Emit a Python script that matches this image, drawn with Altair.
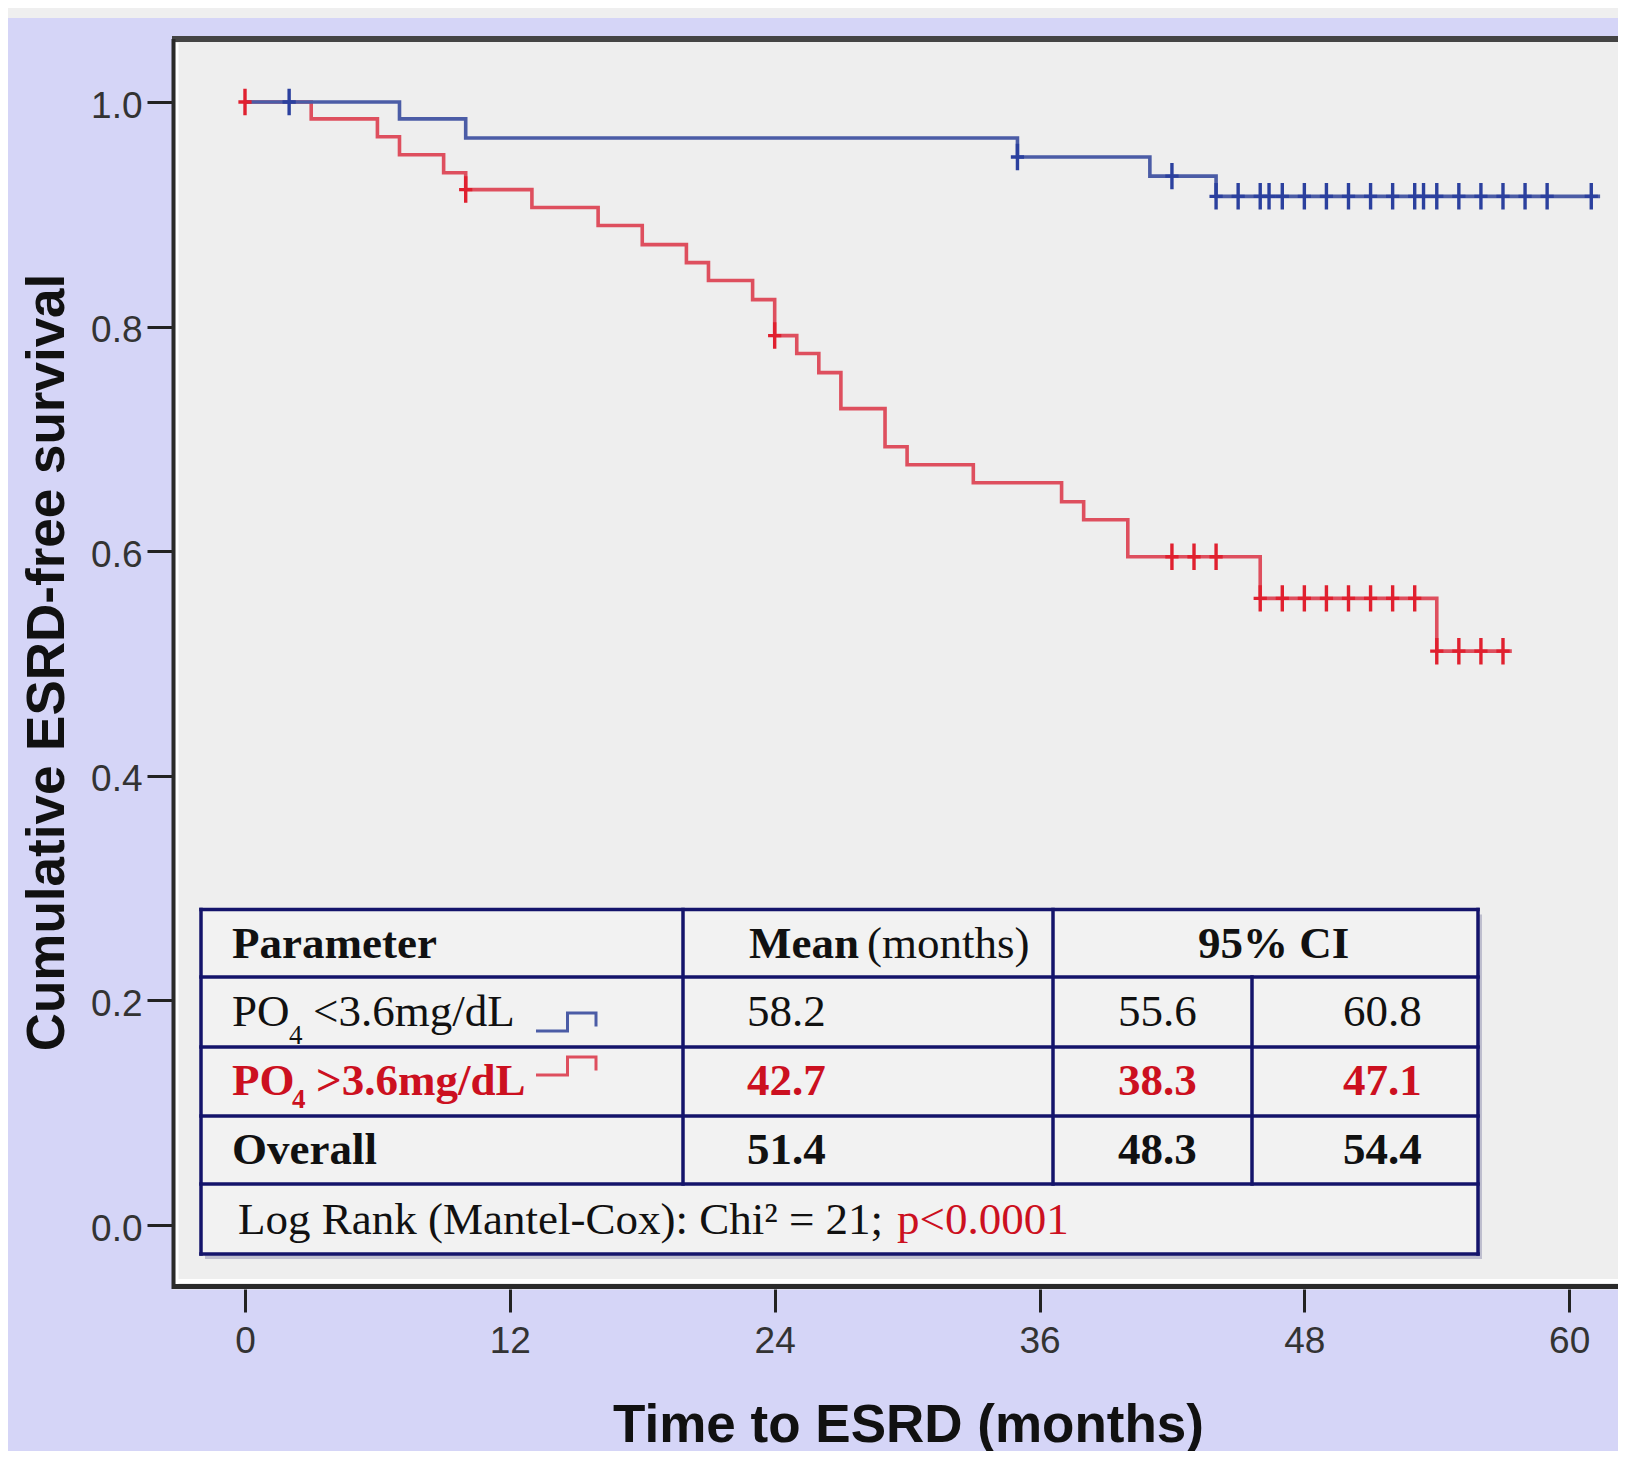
import altair as alt
import pandas as pd

# ---------------- data ----------------
red_times = [0, 3, 6, 7, 9, 10, 13, 16, 18, 20, 21, 23, 24, 25, 26, 27, 29, 30, 33, 37, 38, 40, 46, 54]
red_surv = [1.0, 0.985, 0.969, 0.953, 0.937, 0.922, 0.906, 0.890, 0.873, 0.857, 0.841, 0.824,
            0.792, 0.776, 0.759, 0.727, 0.693, 0.677, 0.661, 0.644, 0.628, 0.595, 0.558, 0.511]
red_end = 57.4
red_censored = [0, 10, 24, 42, 43, 44, 46, 47, 48, 49, 50, 51, 52, 53, 54, 55, 56, 57]

blue_times = [0, 7, 10, 35, 41, 44]
blue_surv = [1.0, 0.985, 0.968, 0.951, 0.934, 0.916]
blue_end = 61.4
blue_censored = [2, 35, 42, 44, 45, 46, 46.4, 47, 48, 49, 50, 51, 52, 53, 53.4, 54, 55, 56, 57, 58, 59, 61]

x_ticks = [0, 12, 24, 36, 48, 60]
y_ticks = [0.0, 0.2, 0.4, 0.6, 0.8, 1.0]

x_title = "Time to ESRD (months)"
y_title = "Cumulative ESRD-free survival"

row_labels = ["PO", "PO", "Overall"]
row_label_rest = ["<3.6mg/dL", ">3.6mg/dL", ""]
means = ["58.2", "42.7", "51.4"]
ci_low = ["55.6", "38.3", "48.3"]
ci_high = ["60.8", "47.1", "54.4"]
logrank_text = "Log Rank (Mantel-Cox): Chi\u00b2 = 21;"
p_text = "p<0.0001"

# ---------------- styling / layout ----------------
RED_LINE = "#de4f5e"
RED_MARK = "#e0202f"
BLUE_LINE = "#4b5ca6"
BLUE_MARK = "#2b409e"
RED_TEXT = "#cc1020"
BLACK = "#111111"
NAVY = "#14146b"
LAVENDER = "#d5d5f7"
PLOT_BG = "#eeeeee"

PLOT_W, PLOT_H = 1446, 1250
PAD_L, PAD_T, PAD_B = 164, 31, 162
LEFT_PX, TOP_PX = 8 + PAD_L, 8 + PAD_T          # page position of plot area
X0_PX, PX_PER_MONTH = 245.0, 22.07               # page px of month 0
Y0_PX, PX_PER_UNIT = 1225.0, 1123.0              # page px of survival 0


def dx(px):
    return (px - X0_PX) / PX_PER_MONTH


def dy(py):
    return (Y0_PX - py) / PX_PER_UNIT


XMIN, XMAX = dx(LEFT_PX), dx(LEFT_PX + PLOT_W)
YMIN, YMAX = dy(TOP_PX + PLOT_H), dy(TOP_PX)

xscale = alt.Scale(domain=[XMIN, XMAX], nice=False, zero=False)
yscale = alt.Scale(domain=[YMIN, YMAX], nice=False, zero=False)

xaxis = alt.Axis(values=x_ticks, title=x_title, grid=False, domain=False,
                 tickSize=23, tickWidth=3, tickColor="#222222",
                 labelFont="Liberation Sans", labelFontSize=37, labelColor="#333333",
                 labelPadding=11, labelFlush=False,
                 titleFont="Liberation Sans", titleFontSize=53, titleFontWeight="bold",
                 titleColor=BLACK, titleX=908 - LEFT_PX, titleY=1425 - (TOP_PX + PLOT_H),
                 titleBaseline="middle", titleAlign="center")
yaxis = alt.Axis(values=y_ticks, format=".1f", title=y_title, grid=False, domain=False,
                 tickSize=25, tickWidth=3, tickColor="#222222",
                 labelFont="Liberation Sans", labelFontSize=37, labelColor="#333333",
                 labelPadding=5, labelOffset=4, labelFlush=False,
                 titleFont="Liberation Sans", titleFontSize=53, titleFontWeight="bold",
                 titleColor=BLACK, titleX=47 - LEFT_PX, titleY=662 - TOP_PX,
                 titleAngle=270, titleBaseline="middle", titleAlign="center")


def X(f):
    return alt.X(f, type="quantitative", scale=xscale, axis=xaxis)


def Y(f):
    return alt.Y(f, type="quantitative", scale=yscale, axis=yaxis)


def step_value(times, surv, t):
    v = surv[0]
    for ti, si in zip(times, surv):
        if ti <= t:
            v = si
    return v


# ---------------- curves ----------------
curve_rows = []
for t, s in zip(red_times, red_surv):
    curve_rows.append({"t": t, "s": s, "g": "red", "c": RED_LINE})
curve_rows.append({"t": red_end, "s": red_surv[-1], "g": "red", "c": RED_LINE})
for t, s in zip(blue_times, blue_surv):
    curve_rows.append({"t": t, "s": s, "g": "blue", "c": BLUE_LINE})
curve_rows.append({"t": blue_end, "s": blue_surv[-1], "g": "blue", "c": BLUE_LINE})
curves_df = pd.DataFrame(curve_rows)

cens_rows = []
for t in red_censored:
    cens_rows.append({"t": t, "s": step_value(red_times, red_surv, t), "c": RED_MARK})
for t in blue_censored:
    cens_rows.append({"t": t, "s": step_value(blue_times, blue_surv, t), "c": BLUE_MARK})
cens_df = pd.DataFrame(cens_rows)

curves = alt.Chart(curves_df).mark_line(interpolate="step-after", strokeWidth=3.6).encode(
    x=X("t"), y=Y("s"), color=alt.Color("c:N", scale=None), detail="g:N")

censors = alt.Chart(cens_df).mark_point(
    shape="M0,-1L0,1M-0.5,0L0.5,0", size=700, filled=False, strokeWidth=3.4, opacity=1
).encode(x=X("t"), y=Y("s"), color=alt.Color("c:N", scale=None))

# ---------------- inset table ----------------
T_L, T_R = 201, 1478
rows_px = [909.5, 977, 1047, 1116, 1184, 1254]
c1, c2, c3 = 683, 1053, 1252

shadow_df = pd.DataFrame([{"x": dx(T_L + 4), "x2": dx(T_R + 4), "y": dy(rows_px[0] + 5), "y2": dy(rows_px[-1] + 5)}])
bg_df = pd.DataFrame([{"x": dx(T_L), "x2": dx(T_R), "y": dy(rows_px[0]), "y2": dy(rows_px[-1])}])

shadow = alt.Chart(shadow_df).mark_rect(color="#a9a9c0", opacity=0.7).encode(
    x=X("x"), x2="x2", y=Y("y"), y2="y2")
table_bg = alt.Chart(bg_df).mark_rect(color="#f2f2f2").encode(
    x=X("x"), x2="x2", y=Y("y"), y2="y2")

h_df = pd.DataFrame([{"x": dx(T_L), "x2": dx(T_R), "y": dy(r)} for r in rows_px])
v_df = pd.DataFrame([
    {"x": dx(T_L), "y": dy(rows_px[0]), "y2": dy(rows_px[-1])},
    {"x": dx(T_R), "y": dy(rows_px[0]), "y2": dy(rows_px[-1])},
    {"x": dx(c1), "y": dy(rows_px[0]), "y2": dy(rows_px[4])},
    {"x": dx(c2), "y": dy(rows_px[0]), "y2": dy(rows_px[4])},
    {"x": dx(c3), "y": dy(rows_px[1]), "y2": dy(rows_px[4])},
])
h_lines = alt.Chart(h_df).mark_rule(color=NAVY, strokeWidth=3.5, strokeCap="square").encode(
    x=X("x"), x2="x2", y=Y("y"))
v_lines = alt.Chart(v_df).mark_rule(color=NAVY, strokeWidth=3.5, strokeCap="square").encode(
    x=X("x"), y=Y("y"), y2="y2")

row_y = [944, 1012, 1081, 1150, 1220]
col_x_mean, col_x_lo, col_x_hi = 747, 1118, 1343

reg_rows = [
    {"x": 867, "y": row_y[0], "text": "(months)", "c": BLACK},
    {"x": 232, "y": row_y[1], "text": row_labels[0], "c": BLACK},
    {"x": 313, "y": row_y[1], "text": row_label_rest[0], "c": BLACK},
    {"x": col_x_mean, "y": row_y[1], "text": means[0], "c": BLACK},
    {"x": col_x_lo, "y": row_y[1], "text": ci_low[0], "c": BLACK},
    {"x": col_x_hi, "y": row_y[1], "text": ci_high[0], "c": BLACK},
    {"x": 238, "y": row_y[4], "text": logrank_text, "c": BLACK},
    {"x": 897, "y": row_y[4], "text": p_text, "c": RED_TEXT},
]
bold_rows = [
    {"x": 232, "y": row_y[0], "text": "Parameter", "c": BLACK},
    {"x": 749, "y": row_y[0], "text": "Mean", "c": BLACK},
    {"x": 1198, "y": row_y[0], "text": "95% CI", "c": BLACK},
    {"x": 232, "y": row_y[2], "text": row_labels[1], "c": RED_TEXT},
    {"x": 316, "y": row_y[2], "text": row_label_rest[1], "c": RED_TEXT},
    {"x": col_x_mean, "y": row_y[2], "text": means[1], "c": RED_TEXT},
    {"x": col_x_lo, "y": row_y[2], "text": ci_low[1], "c": RED_TEXT},
    {"x": col_x_hi, "y": row_y[2], "text": ci_high[1], "c": RED_TEXT},
    {"x": 232, "y": row_y[3], "text": row_labels[2], "c": BLACK},
    {"x": col_x_mean, "y": row_y[3], "text": means[2], "c": BLACK},
    {"x": col_x_lo, "y": row_y[3], "text": ci_low[2], "c": BLACK},
    {"x": col_x_hi, "y": row_y[3], "text": ci_high[2], "c": BLACK},
]
sub_reg = [{"x": 289, "y": 1036, "text": "4", "c": BLACK}]
sub_bold = [{"x": 292, "y": 1100, "text": "4", "c": RED_TEXT}]


def to_df(rows):
    return pd.DataFrame([{"x": dx(r["x"]), "y": dy(r["y"]), "text": r["text"], "c": r["c"]} for r in rows])


def text_layer(rows, size, weight):
    return alt.Chart(to_df(rows)).mark_text(
        align="left", baseline="middle", font="Liberation Serif", fontSize=size, fontWeight=weight
    ).encode(x=X("x"), y=Y("y"), text="text:N", color=alt.Color("c:N", scale=None))


t_reg = text_layer(reg_rows, 45, "normal")
t_bold = text_layer(bold_rows, 45, "bold")
t_sub_reg = text_layer(sub_reg, 27, "normal")
t_sub_bold = text_layer(sub_bold, 27, "bold")

icons_df = pd.DataFrame([
    {"x": dx(566), "y": dy(1022), "c": BLUE_LINE},
    {"x": dx(566), "y": dy(1066), "c": RED_LINE},
])
icons = alt.Chart(icons_df).mark_point(
    shape="M-1,0.3L0.05,0.3L0.05,-0.3L1,-0.3L1,0.15", size=3600, filled=False,
    strokeWidth=3, opacity=1
).encode(x=X("x"), y=Y("y"), color=alt.Color("c:N", scale=None))

# ---------------- frame & page decoration ----------------
top_strip = alt.Chart(pd.DataFrame({"k": [0]})).mark_rect(color="#efefef").encode(
    x=alt.value(-PAD_L), x2=alt.value(PLOT_W), y=alt.value(-PAD_T), y2=alt.value(-PAD_T + 10))
frame_top = alt.Chart(pd.DataFrame({"k": [0]})).mark_rule(color="#444444", strokeWidth=6).encode(
    x=alt.value(0), x2=alt.value(PLOT_W), y=alt.value(0))
frame_left = alt.Chart(pd.DataFrame({"k": [0]})).mark_rule(color="#2a2a2a", strokeWidth=4).encode(
    x=alt.value(1.5), y=alt.value(0), y2=alt.value(PLOT_H))
frame_bottom = alt.Chart(pd.DataFrame({"k": [0]})).mark_rule(color="#2a2a2a", strokeWidth=5).encode(
    x=alt.value(0), x2=alt.value(PLOT_W), y=alt.value(PLOT_H - 2.5))
hi_bottom = alt.Chart(pd.DataFrame({"k": [0]})).mark_rule(color="#ffffff", strokeWidth=4).encode(
    x=alt.value(4), x2=alt.value(PLOT_W), y=alt.value(PLOT_H - 8))
hi_left = alt.Chart(pd.DataFrame({"k": [0]})).mark_rule(color="#ffffff", strokeWidth=3).encode(
    x=alt.value(5), y=alt.value(4), y2=alt.value(PLOT_H - 5))

chart = alt.layer(
    top_strip, hi_bottom, hi_left,
    shadow, table_bg, h_lines, v_lines,
    t_reg, t_bold, t_sub_reg, t_sub_bold, icons,
    curves, censors,
    frame_top, frame_left, frame_bottom,
).properties(
    width=PLOT_W, height=PLOT_H,
    padding={"left": PAD_L, "top": PAD_T, "right": 0, "bottom": PAD_B},
    autosize=alt.AutoSizeParams(type="none"),
    background=LAVENDER,
).configure_view(fill=PLOT_BG, stroke="transparent")

chart.save("out.html", embed_options={"renderer": "svg", "actions": False})
